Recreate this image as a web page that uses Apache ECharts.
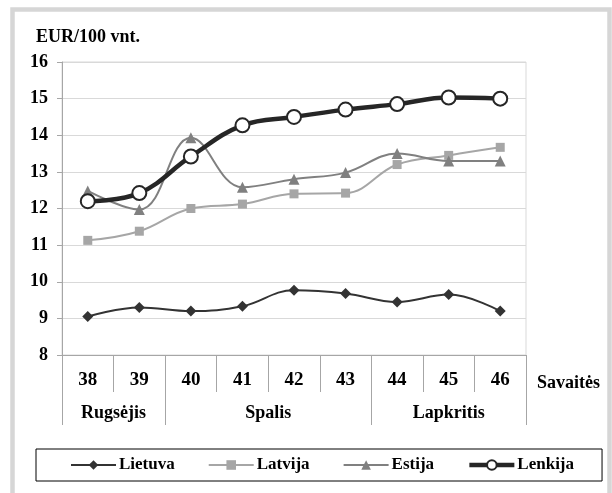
<!DOCTYPE html>
<html>
<head>
<meta charset="utf-8">
<script src="https://cdn.jsdelivr.net/npm/echarts@6/dist/echarts.min.js"></script>
<style>
  html, body { margin: 0; padding: 0; background: #fff; }
  #chart { width: 612px; height: 493px; }
</style>
</head>
<body>
<div id="chart"></div>
<script>
// savaites
const weeks = ["38", "39", "40", "41", "42", "43", "44", "45", "46"]
// menesiai ir ju ribos (savaiciu indeksais)
const months = ["Rugsėjis", "Spalis", "Lapkritis"]
const monthStart = [0, 2, 6]
const monthEnd = [2, 6, 9]

const lietuva = [9.05, 9.3, 9.2, 9.33, 9.77, 9.68, 9.45, 9.65, 9.2]
const latvija = [11.13, 11.38, 12.0, 12.12, 12.4, 12.42, 13.2, 13.45, 13.67]
const estija = [12.48, 11.97, 13.93, 12.58, 12.8, 12.98, 13.5, 13.3, 13.3]
const lenkija = [12.2, 12.42, 13.42, 14.27, 14.5, 14.7, 14.85, 15.03, 15.0]

const serif = "Liberation Serif"
const monthMid = months.map((m, i) => (monthStart[i] + monthEnd[i]) / 2)
const bounds = [...new Set(monthStart.concat(monthEnd))]

let myChart = echarts.init(document.getElementById("chart"))
myChart.setOption({
  backgroundColor: "#fff",
  textStyle: { fontFamily: serif },
  graphic: [{
    type: "rect",
    shape: { x: 12.5, y: 9.5, width: 597, height: 500 },
    style: { fill: "none", stroke: "#d6d6d6", lineWidth: 4.5 },
    silent: true
  }],
  title: [
    {
      text: "EUR/100 vnt.",
      left: 36, top: 28,
      padding: 0,
      textStyle: { fontFamily: serif, fontWeight: "bold", fontSize: 18, color: "#000" }
    },
    {
      text: "Savaitės",
      left: 537, top: 374,
      padding: 0,
      textStyle: { fontFamily: serif, fontWeight: "bold", fontSize: 18, color: "#000" }
    }
  ],
  grid: {
    left: 62, right: 86, top: 62, bottom: 138,
    show: true, borderColor: "#d9d9d9", borderWidth: 1
  },
  xAxis: [
    {
      type: "category",
      data: weeks,
      boundaryGap: true,
      axisLine: { lineStyle: { color: "#a6a6a6", width: 1 } },
      axisTick: { show: true, interval: 0, length: 37, lineStyle: { color: "#a6a6a6" } },
      axisLabel: { margin: 16, fontFamily: serif, fontWeight: "bold", fontSize: 19, color: "#000" }
    },
    {
      type: "value",
      position: "bottom",
      min: 0, max: weeks.length,
      axisLine: { show: false },
      splitLine: { show: false },
      axisTick: { show: true, customValues: bounds, length: 70, lineStyle: { color: "#a6a6a6" } },
      axisLabel: {
        customValues: monthMid,
        margin: 49,
        fontFamily: serif, fontWeight: "bold", fontSize: 18, color: "#000",
        formatter: function (v) {
          let i = monthMid.indexOf(v)
          return i >= 0 ? months[i] : ""
        }
      }
    }
  ],
  yAxis: {
    type: "value",
    min: 8, max: 16, interval: 1,
    axisLine: { show: true, lineStyle: { color: "#a6a6a6" } },
    axisTick: { show: true, length: 5, lineStyle: { color: "#a6a6a6" } },
    splitLine: { lineStyle: { color: "#d9d9d9" } },
    axisLabel: { margin: 14, fontFamily: serif, fontWeight: "bold", fontSize: 18, color: "#000" }
  },
  legend: {
    left: 36, top: 449,
    padding: [7, 28, 7, 34],
    itemGap: 33,
    itemWidth: 45, itemHeight: 12,
    borderColor: "#000", borderWidth: 1,
    textStyle: { fontFamily: serif, fontWeight: "bold", fontSize: 17, color: "#000", lineHeight: 18, padding: [0, 0, 0, -2] },
    data: [
      { name: "Lietuva", lineStyle: { width: 2 } },
      { name: "Latvija", lineStyle: { width: 2 } },
      { name: "Estija", lineStyle: { width: 2 } },
      { name: "Lenkija", lineStyle: { width: 4.5 } }
    ]
  },
  series: [
    {
      name: "Lietuva",
      type: "line",
      data: lietuva,
      smooth: 0.4,
      symbol: "diamond",
      symbolSize: 11,
      itemStyle: { color: "#333333" },
      lineStyle: { color: "#333333", width: 2 }
    },
    {
      name: "Latvija",
      type: "line",
      data: latvija,
      smooth: 0.4,
      symbol: "rect",
      symbolSize: 9,
      itemStyle: { color: "#a6a6a6" },
      lineStyle: { color: "#a6a6a6", width: 2 }
    },
    {
      name: "Estija",
      type: "line",
      data: estija,
      smooth: 0.4,
      symbol: "triangle",
      symbolSize: 11,
      itemStyle: { color: "#808080" },
      lineStyle: { color: "#808080", width: 2 }
    },
    {
      name: "Lenkija",
      type: "line",
      data: lenkija,
      smooth: 0.4,
      symbol: "circle",
      symbolSize: 14,
      itemStyle: { color: "#fff", borderColor: "#262626", borderWidth: 2 },
      lineStyle: { color: "#262626", width: 4.5 }
    }
  ]
})
</script>
</body>
</html>
